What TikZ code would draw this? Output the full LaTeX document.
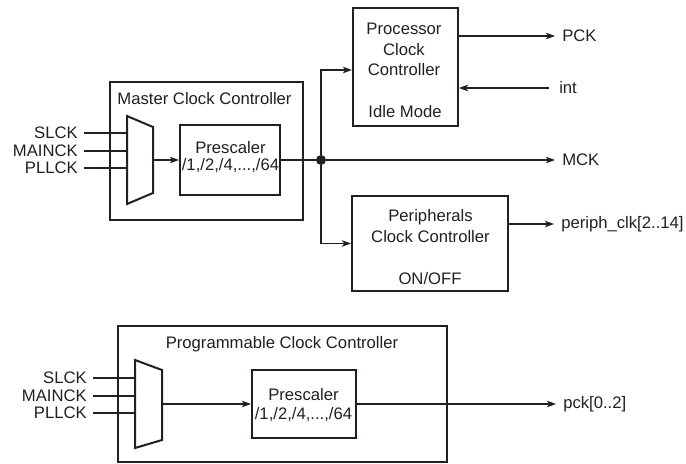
\documentclass[tikz,border=0pt]{standalone}
\usepackage{fontspec}
\setmainfont{Liberation Sans}
\usetikzlibrary{fit}
\usetikzlibrary{positioning, arrows.meta, calc}

\definecolor{ink}{RGB}{35,31,32}

\tikzset{
  blk/.style={draw=ink, line width=1.5pt, inner sep=0pt},
  sig/.style={draw=ink, line width=0.8pt},
  arr/.style={sig, -{Stealth[length=7pt, width=5pt, inset=2pt]}},
  txt/.style={text=ink, inner sep=0pt, align=center},
  inlbl/.style={text=ink, anchor=east, inner xsep=4.5pt, inner ysep=0pt},
  outlbl/.style={text=ink, anchor=west, inner xsep=5.25pt, inner ysep=0pt},
  dot/.style={circle, fill=ink, minimum size=7.5pt, inner sep=0pt},
  mux/.style={draw=ink, line width=1.5pt, line join=miter},
}

\begin{document}
\begin{tikzpicture}[x=0.75pt, y=-0.75pt, font=\fontsize{12.5}{15.5}\selectfont]
  \useasboundingbox (0,0) rectangle (686,464);

  % Master clock controller
  \node[blk, fit={(110,82) (303,220)}] (mcc) {};
  \node[txt] (mcctitle) at (204.5,98.5) {Master Clock Controller};
  \draw[mux] (127,116) -- (153,127) -- (153,193) -- (127,204) -- cycle;
  \coordinate (mux1in) at (127,160);
  \coordinate (mux1out) at (153,160);
  \node[blk, fit={(180,125) (280,195)}] (pre1) {};
  \node[txt, font=\fontsize{12.5}{12.5}\selectfont] (pre1txt) at (230.5,156.75) {Prescaler\\/1,/2,/4,...,/64};

  \foreach \n/\y in {SLCK/133, MAINCK/151, PLLCK/168}
  \node[inlbl] (in1\n) at (84,\y) {\n};
  \foreach \n in {SLCK, MAINCK, PLLCK}
  \draw[sig] (in1\n.east) -- (in1\n.east -| mux1in);
  \draw[arr] (mux1out) -- (pre1.west);

  \node[dot] (split) at (321,160) {};
  \draw[sig] (pre1.east) -- (split);

  % Processor and peripherals clock controllers
  \node[blk, fit={(353,8) (458,126)}] (proc) {};
  \node[txt, font=\fontsize{12.5}{15.4}\selectfont] (proctxt) at (404,49.5) {Processor\\Clock\\Controller};
  \node[txt] (idle) at (405,112) {Idle Mode};

  \node[blk, fit={(352,196) (508,291)}] (periph) {};
  \node[txt, font=\fontsize{12.5}{15.75}\selectfont] (periphtxt) at (430.5,226.4) {Peripherals\\Clock Controller};
  \node[txt] (onoff) at (430,279) {ON/OFF};

  % Outputs
  \node[outlbl] (pck) at (555,36) {PCK};
  \node[outlbl, inner xsep=7.5pt] (int) at (549,88) {int};
  \node[outlbl] (mck) at (555,160) {MCK};
  \node[outlbl] (pclk) at (554,224) {periph\_clk[2..14]};

  \draw[arr] (proc.east |- pck.west) -- (pck.west);
  \draw[arr] (int.west) -- (int.west -| proc.east);
  \draw[arr] (split) -- (mck.west);
  \draw[arr] (split) |- ([yshift=-2.25pt]proc.west);
  \draw[arr] (split) |- (periph.west);
  \draw[arr] (periph.east |- pclk.west) -- (pclk.west);

  % Programmable clock controller
  \node[blk, fit={(118,326) (447,462)}] (pcc) {};
  \node[txt] (pcctitle) at (282,344) {Programmable Clock Controller};
  \draw[mux] (135,360) -- (162,370) -- (162,440) -- (135,448) -- cycle;
  \coordinate (mux2in) at (135,404);
  \coordinate (mux2out) at (162,404);
  \node[blk, fit={(252,370) (356,438)}] (pre2) {};
  \node[txt, font=\fontsize{12.5}{14.25}\selectfont] (pre2txt) at (303.5,405.4) {Prescaler\\/1,/2,/4,...,/64};

  \foreach \n/\y in {SLCK/378, MAINCK/396, PLLCK/413}
  \node[inlbl] (in2\n) at (93,\y) {\n};
  \foreach \n in {SLCK, MAINCK, PLLCK}
  \draw[sig] (in2\n.east) -- (in2\n.east -| mux2in);
  \draw[arr] (mux2out) -- (pre2.west);

  \node[outlbl] (pckout) at (556,404) {pck[0..2]};
  \draw[arr] (pre2.east) -- (pckout.west);
\end{tikzpicture}
\end{document}
